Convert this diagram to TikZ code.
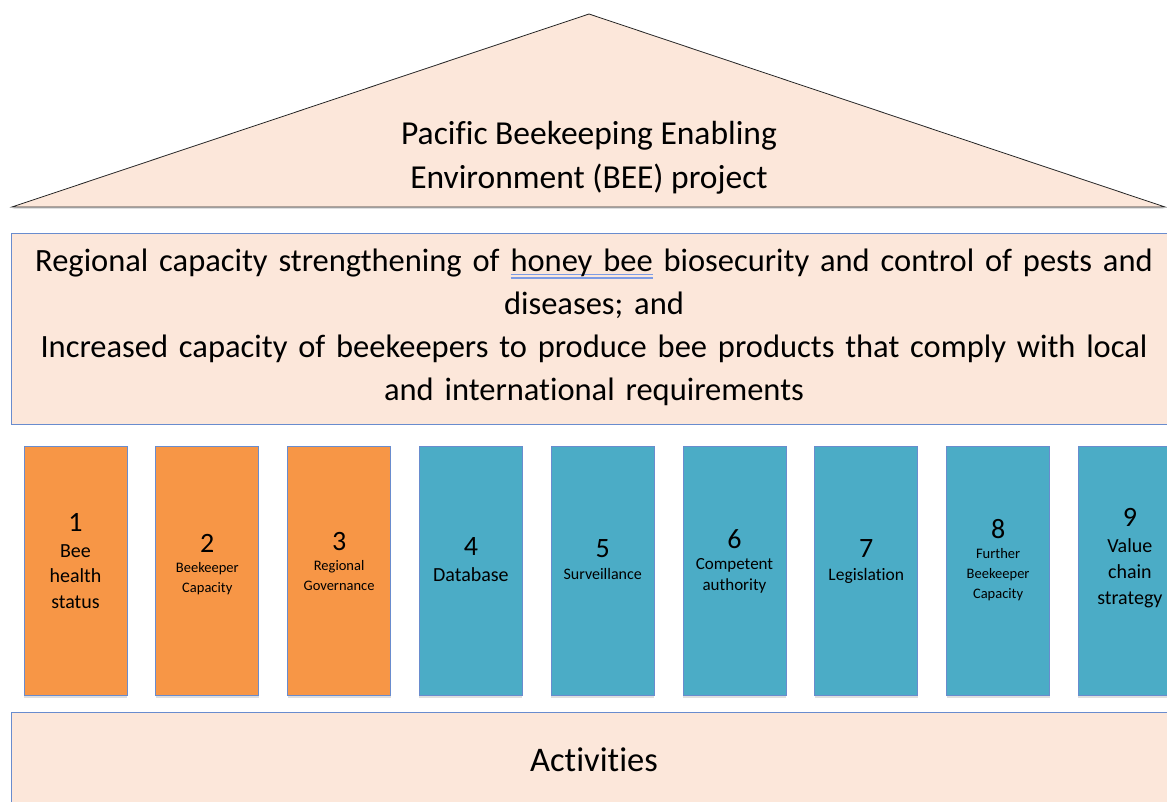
\documentclass[tikz,border=0pt]{standalone}
\usepackage{fontspec}
\setmainfont{Carlito}[Ligatures=NoCommon]
\usetikzlibrary{shadows}
\definecolor{RoofFill}{RGB}{252,231,218}
\definecolor{PillarOrange}{RGB}{247,150,70}
\definecolor{PillarAqua}{RGB}{75,172,198}
\definecolor{EdgeBlue}{RGB}{105,140,206}
\definecolor{GrammarLine}{RGB}{125,155,228}
\newsavebox\grammarbox
\newcommand\grammarmark[1]{\sbox\grammarbox{#1}%
    \rlap{\textcolor{GrammarLine}{\rule[-0.13em]{\wd\grammarbox}{0.05em}}}%
    \rlap{\textcolor{GrammarLine}{\rule[-0.23em]{\wd\grammarbox}{0.05em}}}%
    \usebox\grammarbox}
\newcommand\pillarnum[1]{{\fontsize{28}{30}\selectfont #1\par}}
\tikzset{
    roof/.style={draw=black!85, fill=RoofFill, line width=0.8pt,
        drop shadow={shadow xshift=0pt, shadow yshift=-2pt, opacity=0.25}},
    beam/.style={draw=EdgeBlue, fill=RoofFill, line width=1.2pt},
    pillar/.style={draw=EdgeBlue, line width=0.9pt, inner sep=0pt,
        minimum width=103pt, minimum height=249pt,
        drop shadow={shadow xshift=0pt, shadow yshift=-3pt, opacity=0.25}},
    pillar text/.style={text width=100pt, align=center, inner sep=0pt}
}

\begin{document}
\begin{tikzpicture}[x=1pt, y=-1pt]

\useasboundingbox (0,0) rectangle (1167,802);

\coordinate (apex) at (589, 14);
\coordinate (eaveL) at (12, 207);
\coordinate (eaveR) at (1165, 207);

% Roof of the house.
\draw[roof] (eaveL) -- (apex) -- (eaveR) -- cycle;
\node[align=center, font=\fontsize{33.5}{44}\selectfont] (project) at (589, 158)
    {Pacific Beekeeping Enabling\\Environment (BEE) project};

% Beam with the two objectives.
\node[beam, minimum width=1170pt, minimum height=191pt, anchor=north west] (goals) at (11, 233) {};
\node[text width=1160pt, align=center, font=\fontsize{32.5}{43}\selectfont] (goalstext) at (594, 327)
    {Regional capacity strengthening of \grammarmark{honey bee} biosecurity and control of pests and\\
     diseases; and\\
     Increased capacity of beekeepers to produce bee products that comply with local\\
     and international requirements};

% Pillars: the first three in orange, the rest in blue.
\node[pillar, fill=PillarOrange] (p1) at (75.5, 570.5) {};
\node[pillar, fill=PillarOrange] (p2) at (207.3, 570.5) {};
\node[pillar, fill=PillarOrange] (p3) at (339.1, 570.5) {};
\node[pillar, fill=PillarAqua] (p4) at (470.9, 570.5) {};
\node[pillar, fill=PillarAqua] (p5) at (602.7, 570.5) {};
\node[pillar, fill=PillarAqua] (p6) at (734.5, 570.5) {};
\node[pillar, fill=PillarAqua] (p7) at (866.3, 570.5) {};
\node[pillar, fill=PillarAqua] (p8) at (998.1, 570.5) {};
\node[pillar, fill=PillarAqua] (p9) at (1129.9, 570.5) {};

% Numbers and names of the pillars.
\node[pillar text] (t1) at (75.5, 561)
    {\pillarnum{1}{\fontsize{20}{25.5}\selectfont Bee\par health\par status\par}};
\node[pillar text] (t2) at (207.3, 565)
    {\pillarnum{2}{\fontsize{14.5}{20}\selectfont Beekeeper\par Capacity\par}};
\node[pillar text] (t3) at (339.1, 561)
    {\pillarnum{3}{\fontsize{14.5}{20}\selectfont Regional\par Governance\par}};
\node[pillar text] (t4) at (470.9, 560)
    {\pillarnum{4}{\fontsize{20}{26}\selectfont Database\par}};
\node[pillar text] (t5) at (602.7, 560)
    {\pillarnum{5}{\fontsize{16}{22}\selectfont Surveillance\par}};
\node[pillar text] (t6) at (734.5, 561)
    {\pillarnum{6}{\fontsize{17}{21}\selectfont Competent\par authority\par}};
\node[pillar text] (t7) at (866.3, 562)
    {\pillarnum{7}{\fontsize{17.5}{23}\selectfont Legislation\par}};
\node[pillar text] (t8) at (998.1, 560)
    {\pillarnum{8}{\fontsize{14.5}{20}\selectfont Further\par Beekeeper\par Capacity\par}};
\node[pillar text] (t9) at (1129.9, 558)
    {\pillarnum{9}{\fontsize{20}{26}\selectfont Value\par chain\par strategy\par}};

% Foundation.
\node[beam, minimum width=1170pt, minimum height=110pt, anchor=north west] (base) at (11, 712) {};
\node[font=\fontsize{34.5}{40}\selectfont] (activities) at (594, 760) {Activities};

\end{tikzpicture}
\end{document}
